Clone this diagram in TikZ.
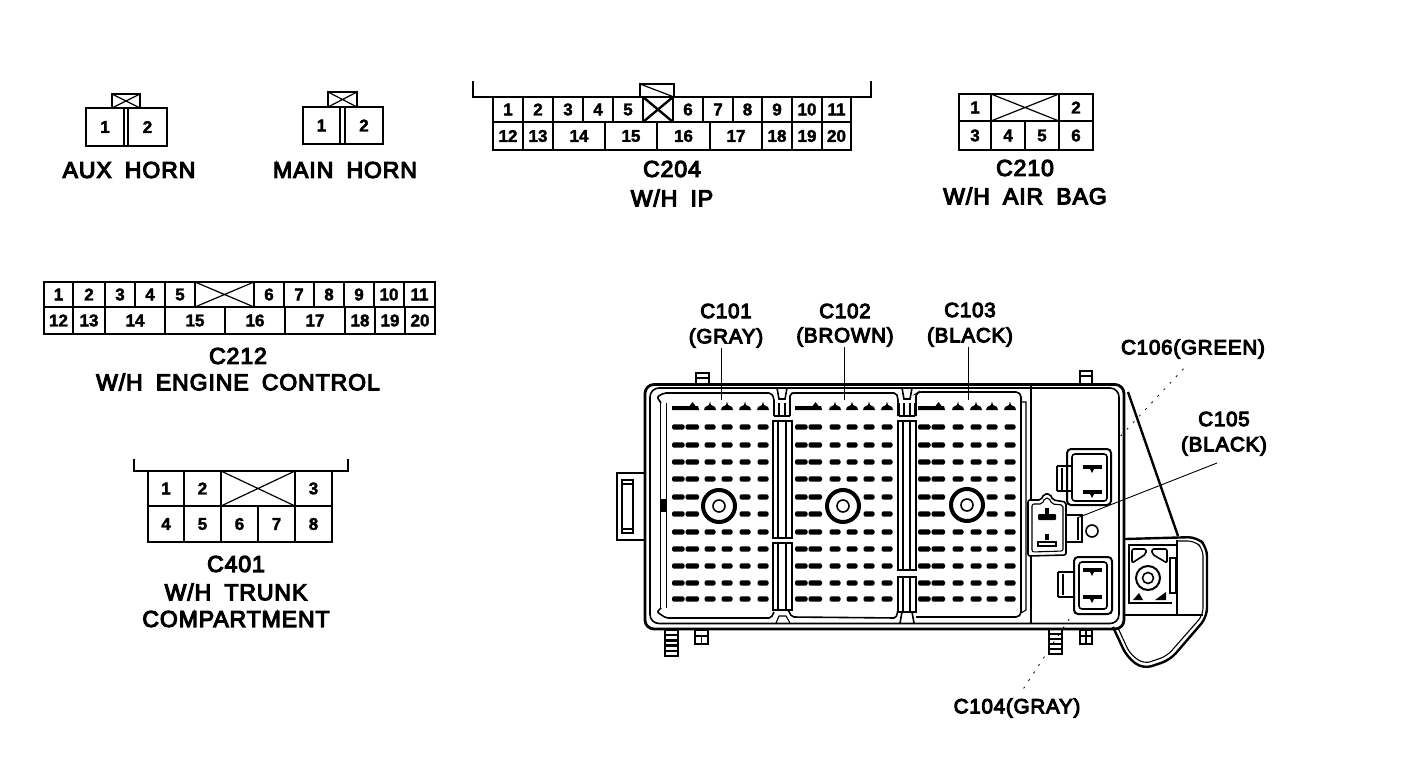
\documentclass[tikz,border=0pt]{standalone}
\usepackage{fontspec}
\setmainfont{Liberation Sans}[FakeBold=5,LetterSpace=4,WordSpace=1.8]
\newfontfamily\numfont{Liberation Sans Bold}[FakeBold=2]
\begin{document}
\begin{tikzpicture}[x=1pt,y=-1pt,
  lbl/.style={font=\fontsize{23}{24}\selectfont,inner sep=0pt,outer sep=0pt,anchor=center,text=black},
  lblb/.style={font=\fontsize{20.5}{22}\selectfont,inner sep=0pt,outer sep=0pt,anchor=center,text=black},
  cellbox/.style={draw=black,line width=1.7pt,inner sep=0pt,outer sep=0pt,font=\numfont\fontsize{17}{18}\selectfont},
  brk/.style={draw=black,line width=1.6pt,line join=miter},
  xline/.style={draw=black,line width=1.2pt},
  heavy/.style={draw=black,line width=2.4pt},
  mid/.style={draw=black,line width=1.6pt},
  thin/.style={draw=black,line width=1.1pt},
  leader/.style={draw=black,line width=0.9pt},
  dotleader/.style={draw=black,line width=0.8pt,dash pattern=on 2pt off 7pt}]
\newcommand{\cellat}[6]{\node[cellbox,minimum width={(#3-#2)*1pt},minimum height={(#5-#4)*1pt}] (#1) at ({(#2+#3)/2},{(#4+#5)/2}) {#6};}
\newcommand{\xbox}[5]{\node[cellbox,minimum width={(#3-#2)*1pt},minimum height={(#5-#4)*1pt}] (#1) at ({(#2+#3)/2},{(#4+#5)/2}) {};
  \draw[xline] (#1.north west) -- (#1.south east) (#1.north east) -- (#1.south west);}
\newcommand{\pinr}[3]{\fill[black,rounded corners=1.5pt] ({#1},{#3-2.6}) rectangle ({#2},{#3+2.6});}
\newcommand{\pintop}[2]{\fill[black] ({#1-6},{#2+3}) -- ({#1-5},{#2}) -- ({#1-1},{#2-2}) -- (#1,{#2-5.5}) -- ({#1+1},{#2-2}) -- ({#1+5},{#2}) -- ({#1+6},{#2+3}) -- cycle;}
\newcommand{\pinblock}[6]{%
  \fill[black] (#1,406) -- (#1,410) -- (#2,410) -- ({#2-1},406) -- ({(#1+#2)/2+10},406) -- ({(#1+#2)/2+7},402) -- ({(#1+#2)/2+4},406) -- cycle;
  \pintop{#3}{407}\pintop{#4}{407}\pintop{#5}{407}\pintop{#6}{407}
  \foreach \yy in {427,445,462,479,497,514,532,549,566,583,599}{
    \pinr{#1}{#1+12.5}{\yy}\pinr{#1+13.5}{#2}{\yy}
    \pinr{#5-5.5}{#5+5.5}{\yy}\pinr{#6-5.5}{#6+5.5}{\yy}}
  \foreach \yy in {427,445,462,479,532,549,566,583,599}{
    \pinr{#3-5.5}{#3+5.5}{\yy}\pinr{#4-5.5}{#4+5.5}{\yy}}}
\newcommand{\ribbox}[4]{\draw[mid] (#1,#3) rectangle (#2,#4);
  \draw[thin] ({#1+5},#3) -- ({#1+5},#4) ({#2-6},#3) -- ({#2-6},#4);}
\newcommand{\stripes}[4]{\draw[mid] (#1,#3) rectangle (#2,#4);
  \foreach \ss in {0.2,0.4,0.6,0.8}{\draw[heavy] (#1,{#3+\ss*(#4-#3)}) -- (#2,{#3+\ss*(#4-#3)});}}
\fill[white] (0,0) rectangle (1408,768);
\useasboundingbox (0,0) rectangle (1408,768);

% ---------- AUX HORN
\xbox{auxkey}{112}{140}{94}{108}
\cellat{aux1}{86}{124}{108}{146}{1}
\cellat{aux2}{128}{167}{108}{146}{2}
\draw[mid] (aux1.north east) -- (aux2.north west) (aux1.south east) -- (aux2.south west);
\node[lbl] (auxlbl) at (129,170) {AUX HORN};
% ---------- MAIN HORN
\xbox{mainkey}{328}{357}{92}{107}
\cellat{main1}{303}{340}{107}{144}{1}
\cellat{main2}{345}{383}{107}{144}{2}
\draw[mid] (main1.north east) -- (main2.north west) (main1.south east) -- (main2.south west);
\node[lbl] (mainlbl) at (345,170) {MAIN HORN};

% ---------- C204
\draw[brk] (473,81) -- (473,97) -- (871,97) -- (871,81);
\node[cellbox,minimum width=34pt,minimum height=13pt] (k204) at (657,90.5) {};
\draw[xline] (k204.north west) -- (k204.south east);
\cellat{a1}{493}{523}{97}{122}{1}\cellat{a2}{523}{553}{97}{122}{2}\cellat{a3}{553}{583}{97}{122}{3}
\cellat{a4}{583}{613}{97}{122}{4}\cellat{a5}{613}{643}{97}{122}{5}\xbox{ax}{643}{673}{97}{122}
\cellat{a6}{673}{703}{97}{122}{6}\cellat{a7}{703}{733}{97}{122}{7}\cellat{a8}{733}{762}{97}{122}{8}
\cellat{a9}{762}{792}{97}{122}{9}\cellat{a10}{792}{822}{97}{122}{10}\cellat{a11}{822}{851}{97}{122}{11}
\draw[heavy] (ax.north west) -- (ax.south east) (ax.north east) -- (ax.south west);
\cellat{a12}{493}{523}{122}{150}{12}\cellat{a13}{523}{553}{122}{150}{13}\cellat{a14}{553}{605}{122}{150}{14}
\cellat{a15}{605}{657}{122}{150}{15}\cellat{a16}{657}{710}{122}{150}{16}\cellat{a17}{710}{762}{122}{150}{17}
\cellat{a18}{762}{792}{122}{150}{18}\cellat{a19}{792}{822}{122}{150}{19}\cellat{a20}{822}{851}{122}{150}{20}
\node[lbl] (c204) at (672,169) {C204};
\node[lbl] (c204b) at (672,198) {W/H IP};

% ---------- C210
\cellat{b1}{959}{991}{94}{121}{1}\xbox{bx}{991}{1059}{94}{121}\cellat{b2}{1059}{1093}{94}{121}{2}
\cellat{b3}{959}{991}{121}{150}{3}\cellat{b4}{991}{1025}{121}{150}{4}\cellat{b5}{1025}{1059}{121}{150}{5}\cellat{b6}{1059}{1093}{121}{150}{6}
\node[lbl] (c210) at (1025,168) {C210};
\node[lbl] (c210b) at (1025,196) {W/H AIR BAG};

% ---------- C212
\cellat{d1}{44}{73}{282}{307}{1}\cellat{d2}{73}{105}{282}{307}{2}\cellat{d3}{105}{135}{282}{307}{3}
\cellat{d4}{135}{165}{282}{307}{4}\cellat{d5}{165}{195}{282}{307}{5}\xbox{dx}{195}{254}{282}{307}
\cellat{d6}{254}{284}{282}{307}{6}\cellat{d7}{284}{314}{282}{307}{7}\cellat{d8}{314}{344}{282}{307}{8}
\cellat{d9}{344}{374}{282}{307}{9}\cellat{d10}{374}{404}{282}{307}{10}\cellat{d11}{404}{435}{282}{307}{11}
\cellat{d12}{44}{73}{307}{334}{12}\cellat{d13}{73}{105}{307}{334}{13}\cellat{d14}{105}{165}{307}{334}{14}
\cellat{d15}{165}{225}{307}{334}{15}\cellat{d16}{225}{285}{307}{334}{16}\cellat{d17}{285}{345}{307}{334}{17}
\cellat{d18}{345}{375}{307}{334}{18}\cellat{d19}{375}{405}{307}{334}{19}\cellat{d20}{405}{435}{307}{334}{20}
\node[lbl] (c212) at (238,356) {C212};
\node[lbl] (c212b) at (238,382) {W/H ENGINE CONTROL};

% ---------- C401
\draw[brk] (134,459) -- (134,471) -- (348,471) -- (348,459);
\cellat{e1}{148}{184}{471}{506}{1}\cellat{e2}{184}{221}{471}{506}{2}\xbox{ex}{221}{295}{471}{506}\cellat{e3}{295}{332}{471}{506}{3}
\cellat{e4}{148}{184}{506}{542}{4}\cellat{e5}{184}{221}{506}{542}{5}\cellat{e6}{221}{258}{506}{542}{6}\cellat{e7}{258}{295}{506}{542}{7}\cellat{e8}{295}{332}{506}{542}{8}
\node[lbl] (c401) at (236,564) {C401};
\node[lbl] (c401b) at (236,592) {W/H TRUNK};
\node[lbl] (c401c) at (236,619) {COMPARTMENT};

% ---------- Fuse box body
\draw[mid] (696,385) -- (696,373) -- (709,373) -- (709,385);
\draw[mid] (696,378) -- (709,378);
\draw[mid] (1080,385) -- (1080,371) -- (1092,371) -- (1092,385);
\draw[mid] (1080,376) -- (1092,376);
\draw[line width=2.8pt,rounded corners=9pt] (645,384.5) rectangle (1124,629);
\draw[mid,rounded corners=9pt] (650,388) rectangle (1119,623.5);
% left tab
\draw[mid] (645,473) -- (617,473) -- (617,540) -- (645,540);
\draw[mid] (622,480) rectangle (633,533);
\draw[thin] (622,484) -- (633,484) (622,529) -- (633,529);
% bottom tabs
\stripes{665}{678}{630}{656}
\draw[mid] (695,630) rectangle (708,644);\draw[thin] (701.5,636) -- (701.5,644) (695,636) -- (708,636);
\stripes{1049}{1062}{629}{654}
\draw[mid] (1080,630) rectangle (1092,644);\draw[thin] (1086,630) -- (1086,644) (1080,636) -- (1092,636);

% connector blocks
\draw[mid,rounded corners=2pt] (774,416) -- (774,398) -- (771,393) -- (664,393) -- (657,397) -- (661,403);
\draw[mid,rounded corners=2pt] (661,608) -- (657,612) -- (666,618) -- (771,618) -- (774,612);
\draw[mid] (660.5,403) -- (660.5,608);
\draw[mid] (666.5,403) -- (666.5,608);
\fill[black] (660,499) rectangle (667,512);
\draw[mid,rounded corners=2pt] (790,416) -- (790,394) -- (793,393) -- (896,393) -- (898,398) -- (898,416);
\draw[mid,rounded corners=2pt] (788,610) -- (792,617) -- (896,618) -- (898,610);
\draw[mid,rounded corners=2pt] (916,416) -- (916,394) -- (919,392) -- (1018,392) -- (1021,395) -- (1021,614) -- (1018,617) -- (916,617);
\draw[thin] (1021,402) -- (1026,402) -- (1026,610) -- (1021,613);
\draw[mid] (1031,385) -- (1031,500) (1031,555) -- (1031,624);
% top notches
\foreach \nx in {782,907}{
  \draw[mid] ({\nx-5},388) -- ({\nx-3},399) -- ({\nx+3},399) -- ({\nx+5},388);
  \draw[mid] ({\nx-8},416) -- ({\nx-8},403) ({\nx+8},416) -- ({\nx+8},403);
  \draw[thin] ({\nx-3},403) -- ({\nx-3},416) ({\nx+3},403) -- ({\nx+3},416);
  \draw[mid] ({\nx-8},416) -- ({\nx+8},416);}
\draw[mid] (900,623) -- (902,612) -- (912,612) -- (914,623);
\draw[thin] (776,623) -- (779,616) -- (786,616) -- (790,623);
% ribs
\ribbox{773}{792}{421}{538}
\ribbox{773}{792}{543}{610}
\ribbox{898}{916}{421}{570}
\ribbox{898}{916}{577}{612}
% pins
\pinblock{672}{699}{710}{727}{745}{763}
\pinblock{795}{822}{835}{852}{869}{887}
\pinblock{918}{945}{958}{976}{992}{1010}
% hubs
\foreach \hx/\hy in {719/506,843/506,967/505}{
  \draw[line width=4pt] (\hx,\hy) circle (16);
  \draw[mid] (\hx,\hy) circle (6);}

% C106 relay
\draw[line width=2pt,rounded corners=4pt] (1067,449) rectangle (1111,505);
\draw[mid,rounded corners=3pt] (1072,454) rectangle (1107,501);
\draw[heavy] (1057,466) -- (1073,466) (1057,491) -- (1073,491);
\draw[heavy] (1057,466) -- (1057,491);
\draw[thin] (1062,468) -- (1062,490);
\fill[black] (1083,465) rectangle (1102,469);\fill[black] (1090,469) -- (1094,469) -- (1092,473) -- cycle;
\fill[black] (1083,490) rectangle (1102,494);\fill[black] (1090,494) -- (1094,494) -- (1092,498) -- cycle;
% C105
\draw[mid,rounded corners=2pt] (1028,500) -- (1041,500) -- (1044,494) -- (1050,494) -- (1053,500) -- (1066,502) -- (1066,555) -- (1028,556) -- cycle;
\draw[thin,rounded corners=2pt] (1032,504) -- (1042,504) -- (1045,498) -- (1049,498) -- (1052,504) -- (1063,505) -- (1063,551) -- (1032,552) -- cycle;
\fill[black,rounded corners=1pt] (1038,514) rectangle (1056,520);\fill[black] (1045,508) rectangle (1049,514);
\draw[mid] (1038,542) rectangle (1056,546);\fill[black] (1045,534) rectangle (1049,540);
\draw[heavy] (1066,515) -- (1082,515) -- (1082,542) -- (1066,542);
\draw[thin] (1078,518) -- (1078,540);
\draw[mid] (1092,531) circle (6);
% C104
\draw[line width=2pt,rounded corners=4pt] (1074,557) rectangle (1112,614);
\draw[mid,rounded corners=3pt] (1079,562) rectangle (1107,609);
\draw[heavy] (1058,572) -- (1075,572) (1058,597) -- (1075,597) (1058,572) -- (1058,597);
\draw[thin] (1063,574) -- (1063,595);
\fill[black] (1083,568) rectangle (1102,572);\fill[black] (1090,572) -- (1094,572) -- (1092,576) -- cycle;
\fill[black] (1083,595) rectangle (1102,599);\fill[black] (1090,599) -- (1094,599) -- (1092,603) -- cycle;

% right-hand housing
\draw[heavy] (1128,392) -- (1178,536);
\draw[heavy,rounded corners=9pt] (1125,539) -- (1197,537) -- (1207,547) -- (1207,617) -- (1170,660) -- (1143,669) -- (1127,657) -- (1113,627);
\draw[thin,rounded corners=7pt] (1178,541) -- (1195,541) -- (1203,549) -- (1203,615) -- (1167,656) -- (1144,664) -- (1130,654) -- (1118,628);
\draw[mid] (1177,540) -- (1177,615);
\draw[mid] (1125,615) -- (1203,615);
\draw[line width=2.2pt] (1128,545) -- (1177,545);
\draw[line width=2.6pt] (1129,545) -- (1129,603) -- (1172,603);
\draw[mid] (1170,558) rectangle (1176,593);
\draw[line width=2pt] (1148,578) circle (12);
\draw[mid] (1148,578) circle (5.5);
\draw[mid,rounded corners=2pt] (1132,563) -- (1132,549) -- (1146,549) -- (1146,554) -- cycle;
\draw[mid,rounded corners=2pt] (1152,549) -- (1167,549) -- (1167,563) -- (1152,554) -- cycle;
\fill[black] (1133,600) -- (1143,600) -- (1139,593) -- cycle;
\fill[black] (1155,600) -- (1166,600) -- (1166,592) -- cycle;

% labels and leaders
\node[lblb] (c101) at (726,311) {C101};
\node[lblb] (c101b) at (726,338) {(GRAY)};
\node[lblb] (c102) at (845,311) {C102};
\node[lblb] (c102b) at (845,337) {(BROWN)};
\node[lblb] (c103) at (970,310) {C103};
\node[lblb] (c103b) at (970,337) {(BLACK)};
\node[lblb] (c106) at (1193,349) {C106(GREEN)};
\node[lblb] (c105) at (1224,419) {C105};
\node[lblb] (c105b) at (1224,446) {(BLACK)};
\node[lblb] (c104) at (1017,708) {C104(GRAY)};
\coordinate (t101) at (721,400);
\coordinate (t102) at (844,400);
\coordinate (t103) at (968,400);
\coordinate (t106) at (1117,440);
\coordinate (t105) at (1077,518);
\coordinate (t104) at (1073,613);
\coordinate (s105) at (1217,463);
\draw[leader] (t101) -- (t101 |- c101b.south);
\draw[leader] (t102) -- (t102 |- c102b.south);
\draw[leader] (t103) -- (t103 |- c103b.south);
\draw[dotleader,shorten <=14pt] (c106.south) -- (t106);
\draw[leader] (s105) -- (t105);
\draw[dotleader,shorten <=12pt] (c104.north) -- (t104);
\end{tikzpicture}
\end{document}
